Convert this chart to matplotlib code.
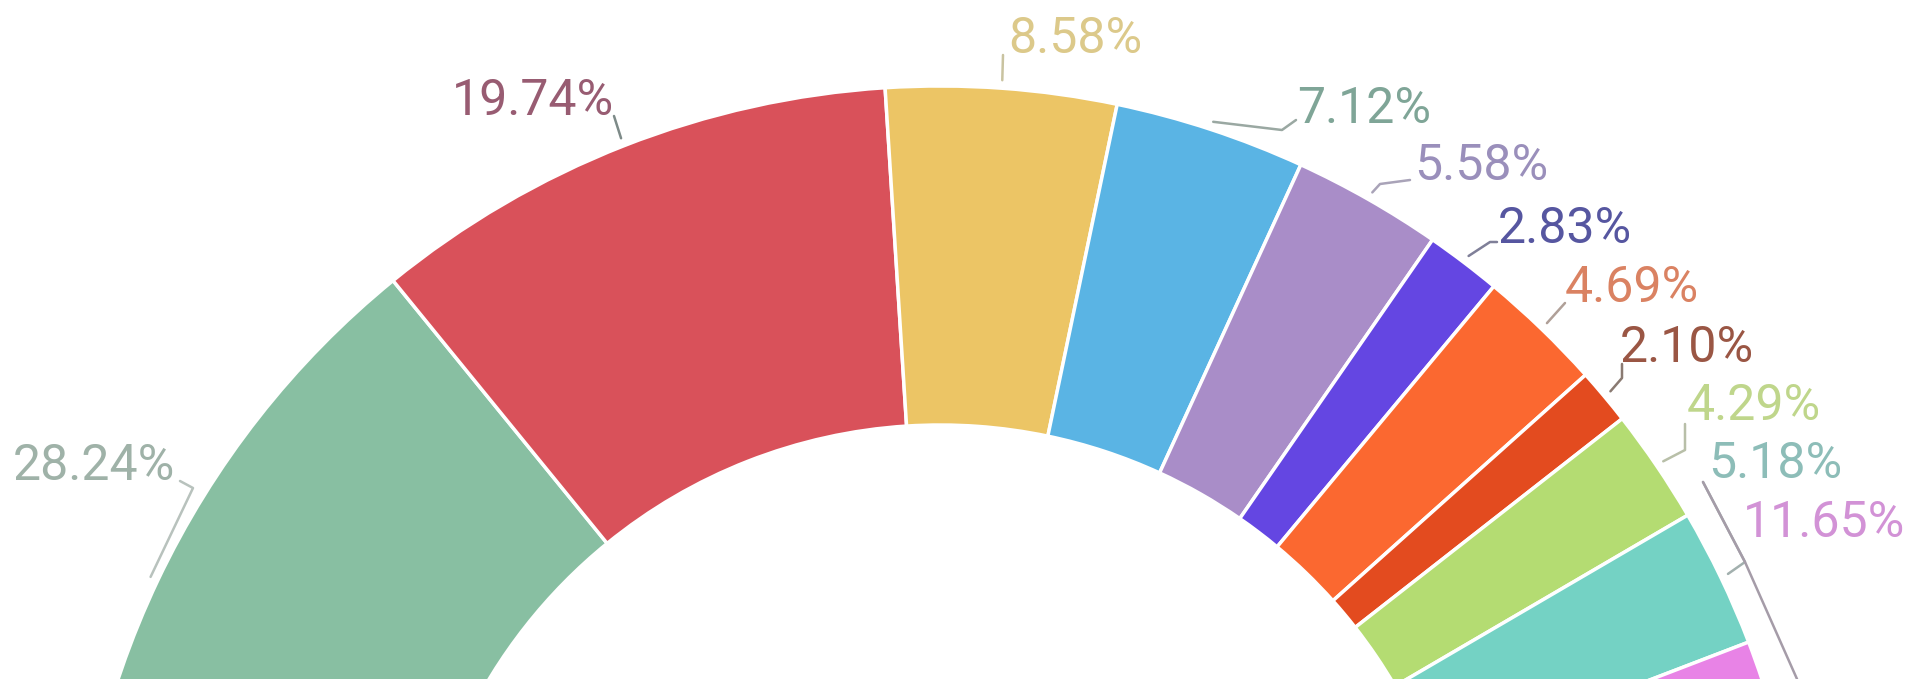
import matplotlib
matplotlib.use("Agg")
import matplotlib.pyplot as plt
import numpy as np

# Share of each category (percent), drawn as a half ring, left to right
shares = [28.24, 19.74, 8.58, 7.12, 5.58, 2.83, 4.69, 2.10, 4.29, 5.18, 11.65]
labels = [f"{v:.2f}%" for v in shares]

slice_colors = ["#88bfa2", "#d9515a", "#ecc565", "#5ab4e4", "#a98dc8", "#6446e2",
                "#fb6830", "#e34b1f", "#b4dc72", "#74d2c4", "#e883e6"]
text_colors = ["#9fb2a8", "#985c72", "#dcc98a", "#7fa597", "#9a8fbb", "#5656a0",
               "#da8262", "#9a5644", "#bfd68b", "#8dbdb8", "#d292d6"]
line_colors = ["#b8c2bd", "#7d8a88", "#c9c3a0", "#9aa8a2", "#a9a3b8", "#7f7f98",
               "#b0a098", "#8a7a72", "#b8bfa8", "#a2b0ae", "#a59ca8"]

W, H = 1906, 679
CX, CY = 940, 952            # ring centre (pixel coords, y down)
R_OUT, R_IN = 866, 527

# label layout: text anchor (left x, baseline y) and leader elbows, pixel coords
label_pos = [(13, 480), (452, 115), (1008, 53), (1297, 123), (1414, 180), (1498, 243),
             (1565, 302), (1620, 362), (1687, 420), (1708, 478), (1743, 537)]
leader_elbows = [
    [(193, 488), (180, 481)],
    [(614, 116)],
    [(1003, 55)],
    [(1282, 130), (1296, 120)],
    [(1380, 184), (1410, 180)],
    [(1490, 242), (1497, 242)],
    [(1565, 303)],
    [(1622, 378), (1622, 364)],
    [(1685, 450), (1685, 424)],
    [(1745, 562), (1703, 482)],
    [(1797, 679), (1745, 562), (1703, 482)],
]

fig = plt.figure(figsize=(W / 100, H / 100), dpi=100)
ax = fig.add_axes([0, 0, 1, 1])

fractions = np.array(shares) / 200.0   # the whole set fills half a circle
wedges, _ = ax.pie(fractions, colors=slice_colors, normalize=False,
                   startangle=180, counterclock=False,
                   radius=R_OUT, center=(CX, H - CY),
                   wedgeprops=dict(width=R_OUT - R_IN, edgecolor="white", linewidth=2.5))

ax.set_xlim(0, W)
ax.set_ylim(0, H)
ax.set_aspect("equal")
ax.axis("off")

for w, lab, tc, lc, (tx, ty), elbows in zip(wedges, labels, text_colors, line_colors,
                                            label_pos, leader_elbows):
    mid = np.deg2rad((w.theta1 + w.theta2) / 2)
    sx = CX + (R_OUT + 8) * np.cos(mid)
    sy = (H - CY) + (R_OUT + 8) * np.sin(mid)
    pts = [(sx, sy)] + [(ex, H - ey) for ex, ey in elbows]
    xs, ys = zip(*pts)
    ax.plot(xs, ys, color=lc, lw=1.8, solid_capstyle="round")
    ax.text(tx, H - ty, lab, color=tc, fontsize=36, family=["Roboto", "DejaVu Sans"],
            ha="left", va="baseline")

fig.savefig("out.png", dpi=100, facecolor="white")
